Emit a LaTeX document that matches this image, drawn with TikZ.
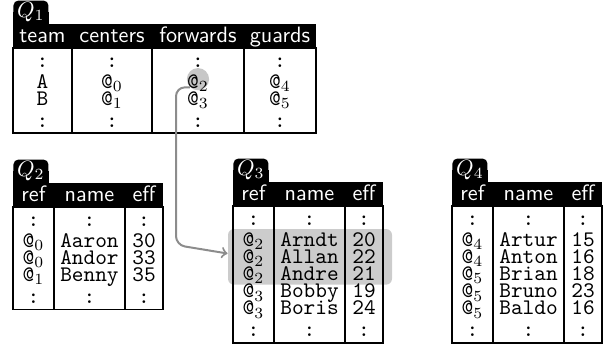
\documentclass[tikz,border=0pt]{standalone}
\usepackage{amsmath}
\usepackage{xcolor}
\usepackage{tikz}
\usetikzlibrary{matrix}
\usetikzlibrary{fit}
\usetikzlibrary{backgrounds}
\tikzset{>=to}
\tikzset{
  tbl/.style={matrix of nodes, inner sep=0pt, outer sep=0pt,
    nodes={inner sep=0pt, outer sep=0pt, anchor=base, font=\ttfamily,
      text height=5.85pt, text depth=1.9pt},
    row 1/.style={nodes={font=\sffamily, text=white, text height=8.1pt, text depth=2.7pt}},
    row 2/.style={nodes={text height=8.55pt, text depth=3.6pt}}},
  lastrow/.style={nodes={text height=8pt, text depth=2.7pt}},
  refcols/.style={column 1/.style={nodes={minimum width=18.45pt}},
    column 2/.style={nodes={minimum width=31.95pt}},
    column 3/.style={nodes={minimum width=17.1pt}}},
  tab/.style={anchor=south west, fill=black, text=white, rounded corners=2.2pt,
    inner sep=0pt, minimum width=15.75pt, minimum height=10.35pt},
  rule/.style={line width=0.7pt},
  band/.style={fill=black!20, rounded corners=2.7pt, inner xsep=3.15pt, inner ysep=0.9pt},
  hit/.style={circle, fill=black!22, minimum size=10pt, inner sep=0pt},
  link/.style={->, draw=black!45, line width=0.9pt, rounded corners=4pt}
}

\begin{document}
\begin{tikzpicture}[x=0.45pt, y=-0.45pt]
\useasboundingbox (0,0) rectangle (605,347);

\matrix (q1) [tbl, anchor=north west, row 5/.style=lastrow,
  column 1/.style={nodes={minimum width=26.55pt}},
  column 2/.style={nodes={minimum width=36pt}},
  column 3/.style={nodes={minimum width=41.4pt}},
  column 4/.style={nodes={minimum width=32.4pt}}] at (13,24) {
team & centers & forwards & guards \\
: & : & : & : \\
A & @$_0$ & @$_2$ & @$_4$ \\
B & @$_1$ & @$_3$ & @$_5$ \\
: & : & : & : \\
};

\matrix (q2) [tbl, refcols, anchor=north west, row 6/.style=lastrow] at (13,183) {
ref & name & eff \\
: & : & : \\
@$_0$ & Aaron & 30 \\
@$_0$ & Andor & 33 \\
@$_1$ & Benny & 35 \\
: & : & : \\
};

\matrix (q3) [tbl, refcols, anchor=north west, row 8/.style=lastrow] at (233,182) {
ref & name & eff \\
: & : & : \\
@$_2$ & Arndt & 20 \\
@$_2$ & Allan & 22 \\
@$_2$ & Andre & 21 \\
@$_3$ & Bobby & 19 \\
@$_3$ & Boris & 24 \\
: & : & : \\
};

\matrix (q4) [tbl, refcols, anchor=north west, row 8/.style=lastrow] at (452,182) {
ref & name & eff \\
: & : & : \\
@$_4$ & Artur & 15 \\
@$_4$ & Anton & 16 \\
@$_5$ & Brian & 18 \\
@$_5$ & Bruno & 23 \\
@$_5$ & Baldo & 16 \\
: & : & : \\
};

\node[tab] (q1tab) at (q1.north west) {$Q_1$};
\node[tab] (q2tab) at (q2.north west) {$Q_2$};
\node[tab] (q3tab) at (q3.north west) {$Q_3$};
\node[tab] (q4tab) at (q4.north west) {$Q_4$};

\begin{pgfonlayer}{background}
\foreach \tb/\nc in {q1/4, q2/3, q3/3, q4/3} {
  \fill (\tb-1-1.north west) rectangle (\tb-1-\nc.south east);
  \fill (\tb tab.west) rectangle (\tb tab.south east);
}
\node[hit, yshift=2pt] (pick) at (q1-3-3) {};
\node[band, fit=(q3-3-1)(q3-5-3), xshift=0.9pt, yshift=0.9pt] (sel) {};
\end{pgfonlayer}

\foreach \tb/\nc in {q1/4, q2/3, q3/3, q4/3} {
  \draw[rule] (\tb-2-1.north west) rectangle (\tb.south east);
  \foreach \col in {2,...,\nc}
    \draw[rule] (\tb-2-\col.north west) -- (\tb-2-\col.north west |- \tb.south);
}

\coordinate (bend) at (176,245);
\draw[link] (pick.south west) -| (bend) -- ([yshift=1.5pt]sel.west);
\end{tikzpicture}
\end{document}
